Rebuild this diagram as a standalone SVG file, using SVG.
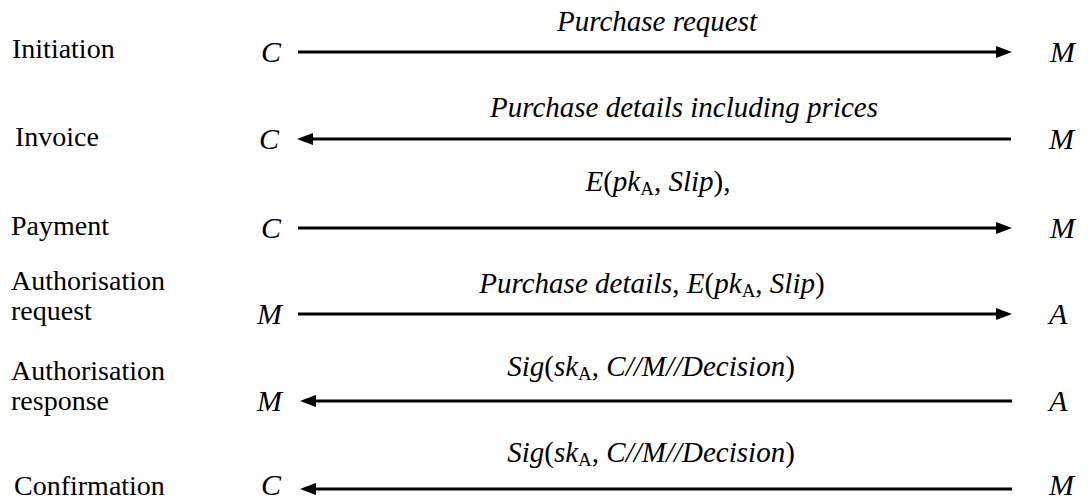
<svg xmlns="http://www.w3.org/2000/svg" width="1091" height="502" viewBox="0 0 1091 502">
<style>
text{font-family:'Liberation Serif','Times New Roman','DejaVu Serif',serif;fill:#000}
.step{font-size:28px}
.ent{font-size:30px;font-style:italic}
.msg{font-size:29px;font-style:italic;text-anchor:middle}
.r{font-style:normal}
.sub{font-style:normal;font-size:19px}
.ln{stroke:#000;stroke-width:3;fill:none}
</style>
<defs>
<marker id="ah" viewBox="0 0 16 12" refX="8" refY="6" markerWidth="16" markerHeight="12" markerUnits="userSpaceOnUse" orient="auto-start-reverse">
<path d="M0,0 L16,6 L0,12 Z" fill="#000"/>
</marker>
</defs>
<rect width="1091" height="502" fill="#fff"/>
<g id="steps">
<text class="step" x="12" y="58">Initiation</text>
<text class="step" x="15" y="146">Invoice</text>
<text class="step" x="11" y="235">Payment</text>
<text class="step" x="11" y="290">Authorisation</text>
<text class="step" x="11" y="320">request</text>
<text class="step" x="11" y="380">Authorisation</text>
<text class="step" x="11" y="410">response</text>
<text class="step" x="14" y="495">Confirmation</text>
</g>
<g id="node-C1"><text class="ent" x="261" y="62">C</text></g>
<g id="node-M1"><text class="ent" x="1050" y="62">M</text></g>
<g id="node-C2"><text class="ent" x="259" y="149">C</text></g>
<g id="node-M2"><text class="ent" x="1049" y="149">M</text></g>
<g id="node-C3"><text class="ent" x="261" y="238">C</text></g>
<g id="node-M3"><text class="ent" x="1050" y="238">M</text></g>
<g id="node-M4"><text class="ent" x="257" y="324">M</text></g>
<g id="node-A4"><text class="ent" x="1049" y="324">A</text></g>
<g id="node-M5"><text class="ent" x="257" y="411">M</text></g>
<g id="node-A5"><text class="ent" x="1049" y="411">A</text></g>
<g id="node-C6"><text class="ent" x="261" y="495">C</text></g>
<g id="node-M6"><text class="ent" x="1049" y="495">M</text></g>
<g id="connectors">
<line class="ln" x1="298" y1="52" x2="1004" y2="52" marker-end="url(#ah)"/>
<line class="ln" x1="305" y1="139" x2="1011" y2="139" marker-start="url(#ah)"/>
<line class="ln" x1="298" y1="228" x2="1004" y2="228" marker-end="url(#ah)"/>
<line class="ln" x1="298" y1="314" x2="1004" y2="314" marker-end="url(#ah)"/>
<line class="ln" x1="308" y1="401" x2="1012" y2="401" marker-start="url(#ah)"/>
<line class="ln" x1="308" y1="489" x2="1012" y2="489" marker-start="url(#ah)"/>
<text class="msg" x="657" y="31">Purchase request</text>
<text class="msg" x="684" y="117">Purchase details including prices</text>
<text class="msg" x="658" y="191">E<tspan class="r">(</tspan>pk<tspan class="sub" dy="4">A</tspan><tspan class="r" dy="-4">, </tspan>Slip<tspan class="r">),</tspan></text>
<text class="msg" x="652" y="293">Purchase details<tspan class="r">, </tspan>E<tspan class="r">(</tspan>pk<tspan class="sub" dy="4">A</tspan><tspan class="r" dy="-4">, </tspan>Slip<tspan class="r">)</tspan></text>
<text class="msg" x="651" y="376">Sig<tspan class="r">(</tspan>sk<tspan class="sub" dy="4">A</tspan><tspan class="r" dy="-4">, </tspan>C//M//Decision<tspan class="r">)</tspan></text>
<text class="msg" x="651" y="462">Sig<tspan class="r">(</tspan>sk<tspan class="sub" dy="4">A</tspan><tspan class="r" dy="-4">, </tspan>C//M//Decision<tspan class="r">)</tspan></text>
</g>
</svg>
